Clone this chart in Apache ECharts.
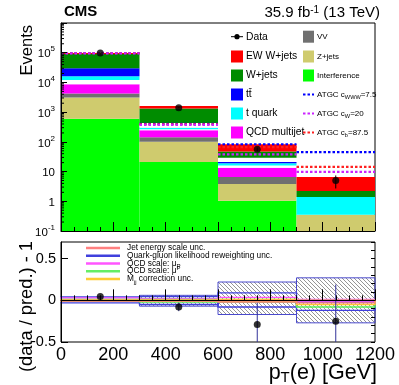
<!DOCTYPE html>
<html>
<head>
<meta charset="utf-8">
<script src="https://cdn.jsdelivr.net/npm/echarts@6/dist/echarts.min.js"></script>
<style>
html,body{margin:0;padding:0;background:#fff}
#main{width:399px;height:385px}
</style>
</head>
<body>
<div id="main"></div>
<script>
'use strict'
// bins of pT(e) [GeV]
var binEdges = [0, 300, 600, 900, 1200]
var xTicks = [0, 200, 400, 600, 800, 1000, 1200]

// stacked backgrounds, events per bin (bottom of the stack first)
var interference = [600, 21, 1.05, 0]
var zJets = [2500, 79, 2.75, 0.35]
var vv = [1100, 44, 2.8, 0]
var qcd = [4500, 101, 6.9, 0]
var gapA = [3300, 20, 2.5, 0]      // empty (white) part of the stack
var tQuark = [4000, 25, 3, 1.05]
var ttbar = [14000, 10, 2, 0]
var gapB = [0, 130, 8, 0]
var wJets = [61000, 890, 18, 0.8]
var ewWJets = [7000, 300, 36, 4.4]

// ATGC predictions
var atgcCwww = [97000, 400, 83, 45]
var atgcCw = [95000, 370, 38, 9.8]
var atgcCb = [96000, 390, 66, 14.5]

// data
var dataY = [97000, 1400, 56, 5.0]
var dataErrLo = [310, 37, 7.5, 2.3]
var dataErrHi = [310, 37, 8.5, 2.4]

// ratio panel
var ratioY = [0.045, -0.08, -0.29, -0.25]
var ratioErrLo = [0.01, 0.05, 0.35, 0.35]
var ratioErrHi = [0.01, 0.05, 0.26, 0.44]
var totUp = [0.012, 0.06, 0.22, 0.27]
var totDn = [-0.012, -0.07, -0.17, -0.27]
var qgUp = [0.04, 0.045, 0.09, -0.02]
var qgDn = [-0.03, -0.05, -0.08, -0.12]
var muRUp = [0.03, 0.02, 0.035, 0.01]
var muRDn = [0.0, 0.0, 0.0, -0.01]
var muFUp = [0.012, 0.012, 0.012, 0.0]
var muFDn = [-0.01, -0.02, -0.02, -0.08]
var mjjUp = [0.006, 0.006, 0.01, 0.0]
var mjjDn = [-0.006, -0.01, -0.01, -0.05]
var jesUp = [0.0, 0.0, 0.0, 0.0]
var jesDn = [-0.01, -0.01, -0.02, -0.03]
var ratioTicks = [-0.5, 0, 0.5]

var FONT = '"Liberation Sans", Arial, Helvetica, sans-serif'

var stackDefs = [
    {name: 'Interference', values: interference, color: '#00ff00'},
    {name: 'Z+jets', values: zJets, color: '#cfcb6e'},
    {name: 'VV', values: vv, color: '#707070'},
    {name: 'QCD multijet', values: qcd, color: '#ff00ff'},
    {name: 'gapA', values: gapA, color: '#ffffff'},
    {name: 't quark', values: tQuark, color: '#00ffff'},
    {name: 'tt', values: ttbar, color: '#0000ff'},
    {name: 'gapB', values: gapB, color: '#ffffff'},
    {name: 'W+jets', values: wJets, color: '#008c00'},
    {name: 'EW W+jets', values: ewWJets, color: '#ff0000'}
]
var atgcDefs = [
    {name: 'ATGC cwww', values: atgcCwww, color: '#0000ff'},
    {name: 'ATGC cb', values: atgcCb, color: '#ff2020'},
    {name: 'ATGC cw', values: atgcCw, color: '#cc22ff'}
]
var sysDefs = [
    {up: qgUp, dn: qgDn, color: '#4040dd'},
    {up: muRUp, dn: muRDn, color: '#ff55ff'},
    {up: muFUp, dn: muFDn, color: '#55ee55'},
    {up: mjjUp, dn: mjjDn, color: '#ffc833'},
    {up: jesUp, dn: jesDn, color: '#ff7f7f'}
]

function clampY(y, cs) { return Math.max(cs.y, Math.min(cs.y + cs.height, y)) }

// filled box [lo, hi, bottom, top]
function boxRender(fill, stroke, lw) {
    return function (params, api) {
        var p0 = api.coord([api.value(0), api.value(3)])
        var p1 = api.coord([api.value(1), api.value(2)])
        var cs = params.coordSys
        var shape = echarts.graphic.clipRectByRect(
            {x: p0[0], y: p0[1], width: p1[0] - p0[0], height: p1[1] - p0[1]},
            {x: cs.x, y: cs.y, width: cs.width, height: cs.height})
        if (!shape) return
        return {type: 'rect', shape: shape, style: {fill: fill, stroke: stroke || null, lineWidth: lw || 0}}
    }
}

// horizontal segment [lo, hi, y]
function segRender(color, dash, lw) {
    return function (params, api) {
        var p0 = api.coord([api.value(0), api.value(2)])
        var p1 = api.coord([api.value(1), api.value(2)])
        return {type: 'line', shape: {x1: p0[0], y1: p0[1], x2: p1[0], y2: p1[1]},
            style: {stroke: color, lineWidth: lw, lineDash: dash}}
    }
}

// vertical error bar [x, lowY, highY]
function errRender(color) {
    return function (params, api) {
        var cs = params.coordSys
        var p0 = api.coord([api.value(0), api.value(1)])
        var p1 = api.coord([api.value(0), api.value(2)])
        return {type: 'line', shape: {x1: p0[0], y1: clampY(p0[1], cs), x2: p1[0], y2: clampY(p1[1], cs)},
            style: {stroke: color, lineWidth: 1}}
    }
}

var series = []

// stack, built from the component arrays
var cum = [0, 0, 0, 0]
stackDefs.forEach(function (s) {
    var rows = []
    for (var i = 0; i < 4; i++) {
        var v = s.values[i]
        if (v > 0) rows.push([binEdges[i], binEdges[i + 1], Math.max(cum[i], 0.1), cum[i] + v])
        cum[i] += v
    }
    series.push({type: 'custom', name: s.name, xAxisIndex: 0, yAxisIndex: 0, silent: true,
        renderItem: boxRender(s.color), data: rows, z: 2})
})

atgcDefs.forEach(function (s) {
    series.push({type: 'custom', name: s.name, xAxisIndex: 0, yAxisIndex: 0, silent: true,
        renderItem: segRender(s.color, [2.5, 2], 2.2),
        data: s.values.map(function (v, i) { return [binEdges[i], binEdges[i + 1], v] }), z: 4})
})

var centers = binEdges.slice(0, 4).map(function (e, i) { return (e + binEdges[i + 1]) / 2 })

series.push({type: 'custom', xAxisIndex: 0, yAxisIndex: 0, silent: true, z: 5,
    renderItem: errRender('#000'),
    data: dataY.map(function (v, i) { return [centers[i], v - dataErrLo[i], v + dataErrHi[i]] })})
series.push({type: 'scatter', xAxisIndex: 0, yAxisIndex: 0, silent: true, z: 6,
    symbolSize: 7, itemStyle: {color: '#000'},
    data: dataY.map(function (v, i) { return [centers[i], v] })})

// log minor ticks on the top panel
var minorLog = []
for (var d = -1; d < 6; d++) for (var k = 2; k < 10; k++) minorLog.push([0, k * Math.pow(10, d)])
series.push({type: 'custom', xAxisIndex: 0, yAxisIndex: 0, silent: true, z: 7,
    renderItem: function (params, api) {
        var p = api.coord([api.value(0), api.value(1)])
        return {type: 'line', shape: {x1: p[0], y1: p[1], x2: p[0] + 3, y2: p[1]}, style: {stroke: '#000', lineWidth: 1}}
    }, data: minorLog})

// hatch pattern for the total uncertainty
var hatch = document.createElement('canvas')
hatch.width = 4; hatch.height = 4
var hc = hatch.getContext('2d')
hc.strokeStyle = '#7a7a7a'; hc.lineWidth = 0.8
for (var o = -4; o <= 4; o += 4) { hc.beginPath(); hc.moveTo(o, 0); hc.lineTo(o + 4, 4); hc.stroke() }

series.push({type: 'custom', xAxisIndex: 1, yAxisIndex: 1, silent: true, z: 2,
    renderItem: boxRender({image: hatch, repeat: 'repeat'}, '#4a4acc', 1),
    data: totUp.map(function (v, i) { return [binEdges[i], binEdges[i + 1], totDn[i], v] })})

sysDefs.forEach(function (s) {
    series.push({type: 'custom', xAxisIndex: 1, yAxisIndex: 1, silent: true, z: 3,
        renderItem: boxRender('none', s.color, 1.4),
        data: s.up.map(function (v, i) { return [binEdges[i], binEdges[i + 1], s.dn[i], v] })})
})

series.push({type: 'custom', xAxisIndex: 1, yAxisIndex: 1, silent: true, z: 5,
    renderItem: errRender('#33339a'),
    data: ratioY.map(function (v, i) { return [centers[i], v - ratioErrLo[i], v + ratioErrHi[i]] })})
series.push({type: 'scatter', xAxisIndex: 1, yAxisIndex: 1, silent: true, z: 6,
    symbolSize: 7, itemStyle: {color: '#000'},
    data: ratioY.map(function (v, i) { return [centers[i], v] })})

function logLabel(v) {
    var e = Math.round(Math.log10(v))
    if (e === 0) return '{b|1}'
    if (e === 1) return '{b|10}'
    if (e > 5) return ''
    return '{b|10}{s|' + e + '}'
}

var legendRows = [36.7, 56.5, 75.5, 94.5, 113.5, 132.5]
var g = []
function swatch(x, y, w, color) {
    g.push({type: 'rect', shape: {x: x, y: y - 6, width: w, height: 12}, style: {fill: color}, z: 20})
}
function dash(x, y, w, color) {
    g.push({type: 'line', shape: {x1: x, y1: y, x2: x + w, y2: y}, style: {stroke: color, lineWidth: 2.2, lineDash: [2.5, 2]}, z: 20})
}
function label(x, y, text, size) {
    g.push({type: 'text', x: x, y: y, z: 20, style: {text: text, font: size + 'px ' + FONT, fill: '#000',
        verticalAlign: 'middle', rich: {
            n: {fontSize: size, fontFamily: FONT},
            sub: {fontSize: size * 0.7, fontFamily: FONT, verticalAlign: 'bottom', padding: [6, 0, 0, 0]},
            sup: {fontSize: size * 0.7, fontFamily: FONT, verticalAlign: 'top', padding: [0, 0, 5, 0]}
        }}})
}
// data entry
g.push({type: 'line', shape: {x1: 231, y1: legendRows[0], x2: 243, y2: legendRows[0]}, style: {stroke: '#000', lineWidth: 1}, z: 20})
g.push({type: 'circle', shape: {cx: 237, cy: legendRows[0], r: 2.6}, style: {fill: '#000'}, z: 20})
label(246, legendRows[0], 'Data', 10.3)
var col1 = ['EW W+jets', 'W+jets', 'tt', 't quark', 'QCD multijet']
var col1Text = ['EW W+jets', 'W+jets', 'tt\u0304', 't quark', 'QCD multijet']
col1.forEach(function (n, i) {
    var def = stackDefs.filter(function (s) { return s.name === n })[0]
    swatch(231, legendRows[i + 1], 12, def.color)
    label(246, legendRows[i + 1], col1Text[i], 10.3)
})
var col2 = ['VV', 'Z+jets', 'Interference']
col2.forEach(function (n, i) {
    var def = stackDefs.filter(function (s) { return s.name === n })[0]
    swatch(303, legendRows[i], 11, def.color)
    label(317, legendRows[i], n, 8)
})
var atgcText = ['{n|ATGC c}{sub|WWW}{n|=7.5}', '{n|ATGC c}{sub|W}{n|=20}', '{n|ATGC c}{sub|b}{n|=87.5}']
var atgcLegendColor = ['#0000ff', '#cc22ff', '#ff2020']
atgcText.forEach(function (t, i) {
    dash(303, legendRows[i + 3], 11, atgcLegendColor[i])
    label(317, legendRows[i + 3], t, 8)
})

// ratio legend
var sysRows = [248, 255.8, 263.5, 271.2, 279]
var sysText = ['Jet energy scale unc.', 'Quark-gluon likelihood reweighting unc.',
    '{n|QCD scale: \u03bc}{sub|R}', '{n|QCD scale: \u03bc}{sup|F}', '{n|M}{sub|jj}{n| correction unc.}']
var sysColor = ['#ff8080', '#4040dd', '#ff55ff', '#66ee66', '#ffcc33']
sysText.forEach(function (t, i) {
    g.push({type: 'line', shape: {x1: 86, y1: sysRows[i], x2: 120, y2: sysRows[i]}, style: {stroke: sysColor[i], lineWidth: 2.5}, z: 20})
    label(127, sysRows[i], t, 8.3)
})

g.push({type: 'text', x: 64, y: 12, z: 20, style: {text: 'CMS', font: 'bold 15px ' + FONT, fill: '#000', verticalAlign: 'middle'}})
g.push({type: 'text', x: 380, y: 13, z: 20, style: {text: '{n|35.9 fb}{s|-1}{n| (13 TeV)}', align: 'right', verticalAlign: 'middle',
    rich: {n: {fontSize: 15, fontFamily: FONT}, s: {fontSize: 10, fontFamily: FONT, verticalAlign: 'top', padding: [0, 0, 6, 0]}}}})
g.push({type: 'text', x: 27, y: 25, rotation: Math.PI / 2, z: 20,
    style: {text: 'Events', font: '16.5px ' + FONT, fill: '#000', align: 'right', verticalAlign: 'middle'}})
g.push({type: 'text', x: 27, y: 241, rotation: Math.PI / 2, z: 20,
    style: {text: '(data / pred.) - 1', font: '18.3px ' + FONT, fill: '#000', align: 'right', verticalAlign: 'middle'}})
g.push({type: 'text', x: 377, y: 373, z: 20, style: {text: '{n|p}{sub|T}{n|(e) [GeV]}', align: 'right', verticalAlign: 'middle',
    rich: {n: {fontSize: 21.5, fontFamily: FONT}, sub: {fontSize: 15, fontFamily: FONT, verticalAlign: 'bottom', padding: [10, 0, 0, 0]}}}})

var axisLine = {show: true, lineStyle: {color: '#000', width: 1}}
var option = {
    animation: false,
    backgroundColor: '#fff',
    grid: [
        {left: 61, top: 23, width: 314, height: 208, show: true, borderColor: '#000', borderWidth: 1, backgroundColor: 'transparent'},
        {left: 61, top: 242, width: 314, height: 100, show: true, borderColor: '#000', borderWidth: 1, backgroundColor: 'transparent'}
    ],
    xAxis: [
        {type: 'value', gridIndex: 0, min: 0, max: 1200, interval: 200, axisLine: axisLine,
            axisTick: {inside: true, length: 9, lineStyle: {color: '#000'}},
            minorTick: {show: true, splitNumber: 4, length: 4, lineStyle: {color: '#000'}},
            axisLabel: {show: false}, splitLine: {show: false}, z: 10},
        {type: 'value', gridIndex: 1, min: 0, max: 1200, interval: 200, axisLine: axisLine,
            axisTick: {inside: true, length: 11, lineStyle: {color: '#000'}},
            minorTick: {show: true, splitNumber: 4, length: 5, lineStyle: {color: '#000'}},
            axisLabel: {show: true, fontSize: 18, fontFamily: FONT, color: '#000', margin: 4,
                formatter: function (v) { return xTicks.indexOf(v) >= 0 ? String(v) : '' }},
            splitLine: {show: false}, z: 10}
    ],
    yAxis: [
        {type: 'log', logBase: 10, gridIndex: 0, min: 0.1, max: 1e6, axisLine: axisLine,
            axisTick: {inside: true, length: 6, lineStyle: {color: '#000'}},
            axisLabel: {fontSize: 11.5, fontFamily: FONT, color: '#000', margin: 6, formatter: logLabel,
                rich: {b: {fontSize: 11.5, fontFamily: FONT, lineHeight: 15, verticalAlign: 'bottom'},
                    s: {fontSize: 8, fontFamily: FONT, lineHeight: 15, verticalAlign: 'top'}}},
            splitLine: {show: false}, z: 10},
        {type: 'value', gridIndex: 1, min: -0.5, max: 0.7, interval: 0.5, axisLine: axisLine,
            axisTick: {inside: true, length: 7, lineStyle: {color: '#000'}},
            axisLabel: {fontSize: 14.5, fontFamily: FONT, color: '#000', margin: 5, showMaxLabel: false,
                formatter: function (v) { return ratioTicks.indexOf(v) >= 0 ? String(v) : '' }},
            splitLine: {show: false}, z: 10},
        {type: 'value', gridIndex: 1, min: -0.5, max: 0.7, interval: 0.1, axisLine: {show: false},
            axisTick: {inside: true, length: 4, lineStyle: {color: '#000'}},
            axisLabel: {show: false}, splitLine: {show: false}, z: 10}
    ],
    graphic: g,
    series: series
}

var myChart = echarts.init(document.getElementById('main'))
myChart.setOption(option)
</script>
</body>
</html>
